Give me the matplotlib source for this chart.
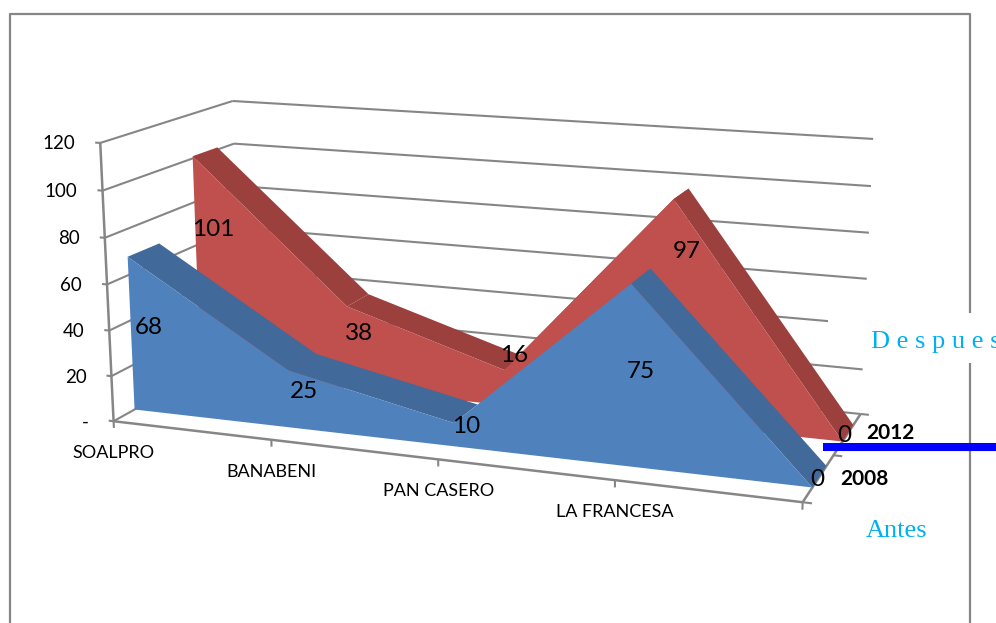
import matplotlib
matplotlib.use('Agg')
import matplotlib.pyplot as plt
import numpy as np

categorias = ['SOALPRO', 'BANABENI', 'PAN CASERO', 'LA FRANCESA', '']
antes_2008 = [68, 25, 10, 75, 0]
despues_2012 = [101, 38, 16, 97, 0]
niveles = [0, 20, 40, 60, 80, 100, 120]
etiquetas_y = ['-', '20', '40', '60', '80', '100', '120']

GRIS = '#868686'
AZUL, AZUL_OSC = '#4F81BD', '#41699A'
ROJO, ROJO_OSC = '#C0504D', '#9C403E'
CIAN = '#00B0F0'

# Calibracion de la perspectiva: (u, valor, profundidad) -> pixel de la imagen
esquinas = [
    ((0, 0, 0), (114, 418)),
    ((0, 120, 0), (100, 143)),
    ((0, 0, 1), (240, 354)),
    ((0, 120, 1), (233, 100)),
    ((1, 0, 1), (861, 410)),
    ((1, 120, 1), (873, 140)),
    ((1, 0, 0), (803, 503)),
    ((0.25, 0, 0), (272, 438)),
    ((0.5, 0, 0), (438, 461)),
    ((0.75, 0, 0), (614, 483)),
]


def ajustar_camara(puntos):
    filas = []
    for (u, v, w), (x, y) in puntos:
        v = v / 120
        filas.append([u, v, w, 1, 0, 0, 0, 0, -x * u, -x * v, -x * w, -x])
        filas.append([0, 0, 0, 0, u, v, w, 1, -y * u, -y * v, -y * w, -y])
    _, _, vt = np.linalg.svd(np.array(filas, dtype=float))
    return vt[-1].reshape(3, 4)


P = ajustar_camara(esquinas)


def proyectar(u, v, w):
    h = P @ np.array([u, v / 120, w, 1.0])
    return h[0] / h[2], h[1] / h[2]


fig = plt.figure(figsize=(9.96, 6.23), dpi=100)
ax = fig.add_axes([0, 0, 1, 1])
ax.set_xlim(0, 996)
ax.set_ylim(623, 0)
ax.axis('off')

# Marco del grafico
ax.plot([10, 10, 970, 970], [640, 14, 14, 640], color=GRIS, lw=1.6, zorder=1)


def linea(p1, p2, lw=1.5, z=2):
    ax.plot([p1[0], p2[0]], [p1[1], p2[1]], color=GRIS, lw=lw, zorder=z,
            solid_capstyle='butt')


# Paredes
for nivel, etiqueta in zip(niveles, etiquetas_y):
    linea(proyectar(0, nivel, 0), proyectar(0, nivel, 1))
    linea(proyectar(0, nivel, 1), proyectar(1, nivel, 1))
    linea(proyectar(-0.008, nivel, 0), proyectar(0, nivel, 0))
    x, y = proyectar(0, nivel, 0)
    ax.text(x - 25, y + 1, etiqueta, ha='right', va='center', fontsize=13.5,
            family='Lato', color='black', zorder=8)

# Ejes
linea(proyectar(0, 0, 0), proyectar(0, 120, 0), lw=1.8, z=3)
linea(proyectar(0, 0, 0), proyectar(1, 0, 0), lw=1.8, z=3)
linea(proyectar(1, 0, 0), proyectar(1, 0, 1), lw=1.8, z=3)

posiciones = np.linspace(0, 1, len(categorias))
for u, nombre in zip(posiciones, categorias):
    x, y = proyectar(u, 0, 0)
    linea((x, y), proyectar(u, -3, 0), lw=1.5, z=3)
    ax.text(x, y + 32, nombre, ha='center', va='center', fontsize=13,
            family='Lato', color='black', zorder=8)
for w in [0, 0.5, 1]:
    linea(proyectar(1, 0, w), proyectar(1.012, 0, w), lw=1.5, z=3)


def dibujar_serie(valores, w1, w2, color, color_osc, z, ajustes):
    # Franja superior, tramo por tramo
    for i in range(len(valores) - 1):
        u1, u2 = posiciones[i], posiciones[i + 1]
        poli = [proyectar(u1, valores[i], w1), proyectar(u2, valores[i + 1], w1),
                proyectar(u2, valores[i + 1], w2), proyectar(u1, valores[i], w2)]
        ax.fill(*zip(*poli), color=color_osc, lw=0, zorder=z)
    # Cara frontal
    cara = [proyectar(u, v, w1) for u, v in zip(posiciones, valores)]
    cara += [proyectar(u, 0, w1) for u in posiciones[::-1]]
    ax.fill(*zip(*cara), color=color, lw=0, zorder=z + 0.5)
    # Etiquetas de datos, con el ajuste manual que tienen en el original
    for u, v, (dx, dy) in zip(posiciones, valores, ajustes):
        x, y = proyectar(u, v / 2, (w1 + w2) / 2)
        ax.text(x + dx, y + dy, str(v), ha='center', va='center', fontsize=17.5,
                family='Lato', color='black', zorder=9)


dibujar_serie(despues_2012, 0.66, 0.86, ROJO, ROJO_OSC, 4,
              [(4, -31), (0, -8), (0, -25), (8, -54), (-4, 2)])
dibujar_serie(antes_2008, 0.15, 0.38, AZUL, AZUL_OSC, 5,
              [(2, 1), (1, 1), (0, 1), (2, 5), (-2, 3)])

# Nombres de las series en el eje de profundidad
for texto, w, dy, dx in [('2008', 0.285, 4, 20), ('2012', 0.80, 3, 16)]:
    x, y = proyectar(1, 0, w)
    ax.text(x + dx, y + dy, texto, ha='left', va='center', fontsize=15,
            family='Lato', fontweight='bold', color='black', zorder=9)

# Anotaciones agregadas encima del grafico
ax.fill([828, 996, 996, 828], [313, 313, 363, 363], color='white', lw=0, zorder=10)
ax.text(871, 342, 'D e s p u e s', ha='left', va='center', fontsize=19,
        family='Liberation Serif', color=CIAN, zorder=11)
ax.text(866, 531, 'Antes', ha='left', va='center', fontsize=19,
        family='Liberation Serif', color=CIAN, zorder=11)
ax.plot([823, 996], [447, 447], color='#0000FF', lw=5.8, zorder=11,
        solid_capstyle='butt')

fig.savefig('out.png', dpi=100)
